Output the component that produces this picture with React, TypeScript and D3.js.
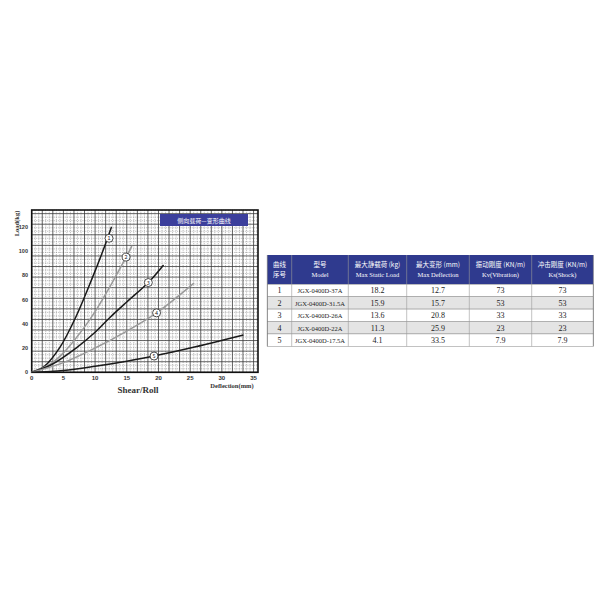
import React from "react";
import * as d3 from "d3";

type Pt = [number, number];

const curve1: Pt[] = [[0, 0], [2, 5], [4.5, 21], [7, 46], [9.5, 77], [11.3, 101], [12.6, 120]];
const curve2: Pt[] = [[0, 0], [3, 7], [5, 16], [8, 35], [10, 50], [12.5, 72], [14.9, 95], [15.8, 104]];
const curve3: Pt[] = [[0, 0], [3, 6], [7, 20], [10, 33], [12.3, 45], [15, 58], [18.4, 74], [20.8, 88.5]];
const curve4: Pt[] = [[0, 0], [5, 8], [10, 20], [15, 34], [19.7, 49], [25.6, 73.5]];
const curve5: Pt[] = [[0, 0], [5, 1.5], [10, 5], [15, 9.2], [19.3, 13.4], [25, 20], [33.4, 30.8]];
const curveColors = ["#1a1a1a", "#9a9a9a", "#1a1a1a", "#9a9a9a", "#1a1a1a"];
const curveLabels: Pt[] = [[12.2, 110.5], [14.9, 95], [18.4, 74], [19.7, 49], [19.3, 13.4]];

const xTicks = [0, 5, 10, 15, 20, 25, 30, 35];
const yTicks = [0, 20, 40, 60, 80, 100, 120];

const tableHeadCn = ["曲线\n序号", "型号", "最大静载荷 (kg)", "最大变形 (mm)", "振动刚度 (KN/m)", "冲击刚度 (KN/m)"];
const tableHeadEn = ["", "Model", "Max Static Load", "Max Deflection", "Kv(Vibration)", "Ks(Shock)"];
const rowIds = ["1", "2", "3", "4", "5"];
const models = ["JGX-0400D-37A", "JGX-0400D-31.5A", "JGX-0400D-26A", "JGX-0400D-22A", "JGX-0400D-17.5A"];
const maxLoad = ["18.2", "15.9", "13.6", "11.3", "4.1"];
const maxDefl = ["12.7", "15.7", "20.8", "25.9", "33.5"];
const kv = ["73", "53", "33", "23", "7.9"];
const ks = ["73", "53", "33", "23", "7.9"];

export default function App() {
  const x = d3.scaleLinear().domain([0, 35.7]).range([31.7, 258]);
  const y = d3.scaleLinear().domain([0, 133.8]).range([372.3, 210]);
  const curves = [curve1, curve2, curve3, curve4, curve5];
  const line = d3
    .line<Pt>()
    .x((d) => x(d[0]))
    .y((d) => y(d[1]))
    .curve(d3.curveCatmullRom.alpha(0.5));

  const xMajor = d3.range(0, 35.7 + 1e-6, 5 / 3);
  const xMinor = d3.range(0, 35.7, 5 / 9).filter((v, i) => i % 3 !== 0);
  const yStep = 8.72;
  const yMajor = d3.range(0, 133.8 + 1e-6, yStep);
  const yMinor = d3.range(0, 133.8, yStep / 3).filter((v, i) => i % 3 !== 0);

  const colX = [267.3, 291.7, 348.3, 406.7, 469.3, 531.7, 593.3];
  const headTop = 255;
  const headBot = 284.3;
  const rowH = 12.4;
  const rows = rowIds.map((id, i) => [id, models[i], maxLoad[i], maxDefl[i], kv[i], ks[i]]);
  const serif = "'Liberation Serif', 'DejaVu Serif', serif";
  const sans = "'Noto Sans CJK SC', 'Noto Sans', sans-serif";

  return (
    <svg
      width={600}
      height={600}
      style={{ position: "absolute", left: 0, top: 0, background: "#fff" }}
    >
      <rect x={0} y={0} width={600} height={600} fill="#fff" />
      <g stroke="#7a7a7a" strokeWidth={0.5} strokeDasharray="1.2,1">
        {xMinor.map((v, i) => (
          <line key={"xm" + i} x1={x(v)} x2={x(v)} y1={y(133.8)} y2={y(0)} />
        ))}
        {yMinor.map((v, i) => (
          <line key={"ym" + i} x1={x(0)} x2={x(35.7)} y1={y(v)} y2={y(v)} />
        ))}
      </g>
      <g stroke="#3a3a3a" strokeWidth={0.8}>
        {xMajor.map((v, i) => (
          <line key={"xM" + i} x1={x(v)} x2={x(v)} y1={y(133.8)} y2={y(0)} />
        ))}
        {yMajor.map((v, i) => (
          <line key={"yM" + i} x1={x(0)} x2={x(35.7)} y1={y(v)} y2={y(v)} />
        ))}
      </g>
      <rect
        x={x(0)}
        y={y(133.8)}
        width={x(35.7) - x(0)}
        height={y(0) - y(133.8)}
        fill="none"
        stroke="#111"
        strokeWidth={1.6}
      />
      <rect x={160} y={214} width={88} height={12} fill="#3c3f9c" />
      <text x={204} y={222.5} fontSize={6} fill="#fff" textAnchor="middle" fontFamily={sans}>
        侧向载荷—变形曲线
      </text>
      {curves.map((c, i) => (
        <path key={"c" + i} d={line(c) || ""} fill="none" stroke={curveColors[i]} strokeWidth={1.5} />
      ))}
      {curveLabels.map((p, i) => (
        <g key={"l" + i}>
          <circle cx={x(p[0])} cy={y(p[1])} r={4} fill="#fff" stroke="#222" strokeWidth={0.8} />
          <text
            x={x(p[0])}
            y={y(p[1]) + 2}
            fontSize={5.5}
            textAnchor="middle"
            fill="#222"
            fontFamily={sans}
          >
            {i + 1}
          </text>
        </g>
      ))}
      {xTicks.map((t) => (
        <text
          key={"xt" + t}
          x={x(t)}
          y={380}
          fontSize={6}
          textAnchor="middle"
          fill="#333"
          fontWeight="bold"
          fontFamily="'Liberation Sans', Arial, sans-serif"
        >
          {t}
        </text>
      ))}
      {yTicks.map((t) => (
        <text
          key={"yt" + t}
          x={28}
          y={y(t) + 2}
          fontSize={5.5}
          textAnchor="end"
          fill="#333"
          fontWeight="bold"
          fontFamily="'Liberation Sans', Arial, sans-serif"
        >
          {t}
        </text>
      ))}
      <text
        transform="translate(18.5,223.5) rotate(-90)"
        fontSize={6.5}
        textAnchor="middle"
        fontWeight="bold"
        fill="#333"
        fontFamily={serif}
      >
        Load(kg)
      </text>
      <text x={138} y={392.5} fontSize={9} textAnchor="middle" fontWeight="bold" fill="#333" fontFamily={serif}>
        Shear/Roll
      </text>
      <text x={232} y={388} fontSize={6.5} textAnchor="middle" fontWeight="bold" fill="#333" fontFamily={serif}>
        Deflection(mm)
      </text>

      <rect x={colX[0]} y={headTop} width={colX[6] - colX[0]} height={headBot - headTop} fill="#2f3a8e" />
      {rows.map((r, i) => (
        <rect
          key={"rb" + i}
          x={colX[0]}
          y={headBot + i * rowH}
          width={colX[6] - colX[0]}
          height={rowH}
          fill={i % 2 === 1 ? "#e4e4e4" : "#fff"}
          stroke="#9a9a9a"
          strokeWidth={0.6}
        />
      ))}
      {colX.map((cx, i) => (
        <line
          key={"cl" + i}
          x1={cx}
          x2={cx}
          y1={headTop}
          y2={headBot + rows.length * rowH}
          stroke={i === 0 || i === 6 ? "#6a6a6a" : "#9a9a9a"}
          strokeWidth={0.6}
        />
      ))}
      {tableHeadCn.map((h, i) => {
        const cx = (colX[i] + colX[i + 1]) / 2;
        const parts = h.split("\n");
        if (parts.length === 2) {
          return (
            <g key={"h" + i}>
              <text x={cx} y={267} fontSize={6.5} fill="#fff" textAnchor="middle" fontFamily={sans}>
                {parts[0]}
              </text>
              <text x={cx} y={277} fontSize={6.5} fill="#fff" textAnchor="middle" fontFamily={sans}>
                {parts[1]}
              </text>
            </g>
          );
        }
        return (
          <g key={"h" + i}>
            <text x={cx} y={267} fontSize={6.5} fill="#fff" textAnchor="middle" fontFamily={sans}>
              {h}
            </text>
            <text x={cx} y={277} fontSize={6.5} fill="#fff" textAnchor="middle" fontFamily={serif}>
              {tableHeadEn[i]}
            </text>
          </g>
        );
      })}
      {rows.map((r, i) =>
        r.map((v, j) => (
          <text
            key={"t" + i + "_" + j}
            x={(colX[j] + colX[j + 1]) / 2}
            y={headBot + i * rowH + rowH / 2 + 2.8}
            fontSize={j === 1 ? 6.5 : 8}
            textAnchor="middle"
            fill="#222"
            fontFamily={serif}
          >
            {v}
          </text>
        ))
      )}
    </svg>
  );
}
